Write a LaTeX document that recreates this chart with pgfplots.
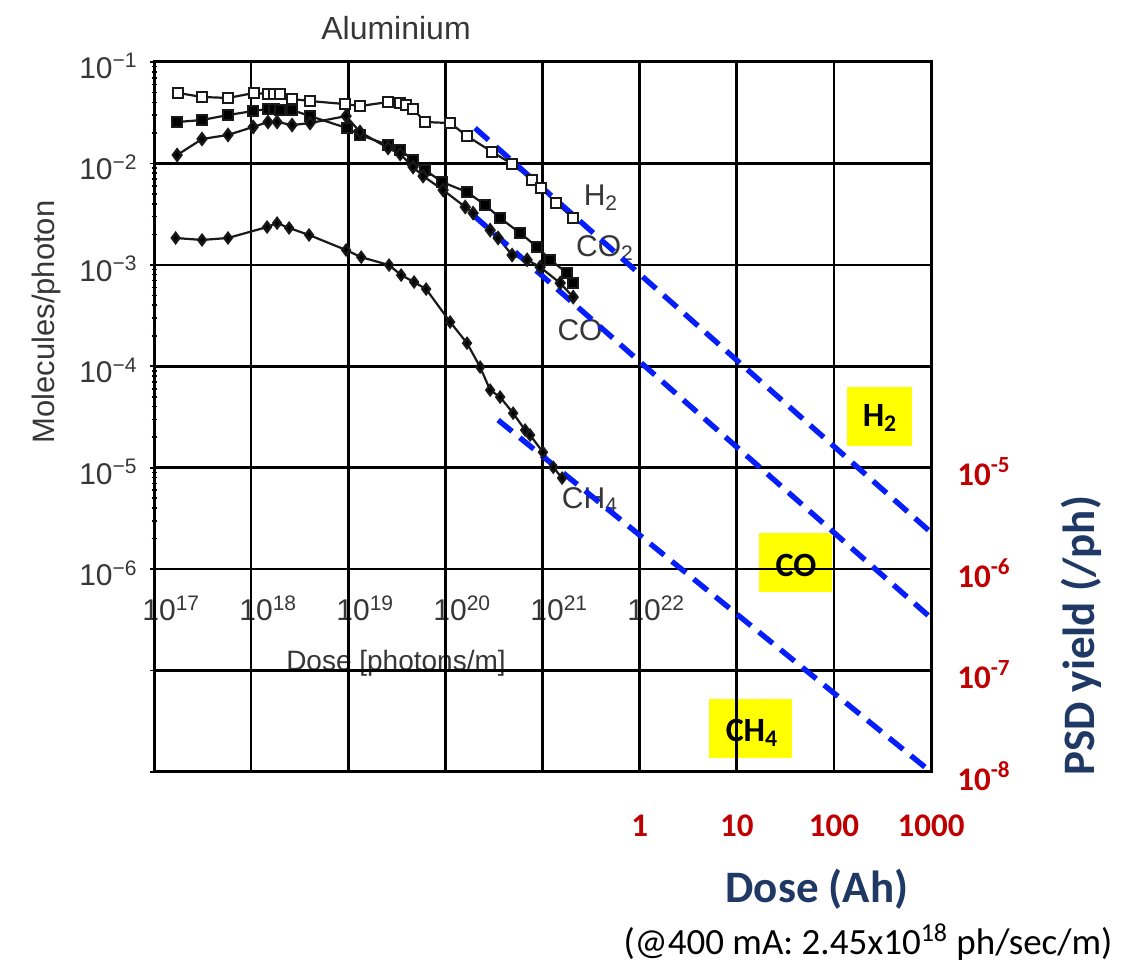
\documentclass[border=0pt]{standalone}
\usepackage{pgfplots}
\pgfplotsset{compat=1.18}
\usepackage{fontspec}
\setmainfont{Liberation Sans}
\newfontfamily\calibri{Carlito}
\definecolor{oldgray}{RGB}{55,55,55}
\definecolor{psdblue}{RGB}{5,30,250}
\definecolor{navy}{RGB}{31,56,100}
\definecolor{dred}{RGB}{192,0,0}
\definecolor{hl}{RGB}{255,255,0}
\newcommand{\gp}[1]{10\textsuperscript{−#1}}
\newcommand{\gx}[1]{10\textsuperscript{#1}}
\newcommand{\rp}[1]{10\textsuperscript{-#1}}
\begin{document}
\begin{tikzpicture}
\path[use as bounding box] (0,0) rectangle (565.5pt,481pt);
\begin{scope}[x=0.5pt,y=-0.5pt,shift={(0pt,481pt)}]
  % yellow highlight boxes (under the grid)
  \fill[hl] (847,387) rectangle (912,446);
  \fill[hl] (759,533) rectangle (832,592);
  \fill[hl] (709,699) rectangle (792,758);
  % old chart texts
  \node[text=oldgray,font=\fontsize{16}{19}\selectfont] at (396,28) {Aluminium};
  \node[rotate=90,text=oldgray,font=\fontsize{15.5}{18}\selectfont] at (46,322) {Molecules/photon};
  \node[text=oldgray,font=\fontsize{14}{17}\selectfont] at (396,663) {Dose [photons/m]};
  \foreach \k/\xx in {17/142,18/239,19/336,20/433,21/530,22/627}
    \node[anchor=base west,inner sep=0pt,text=oldgray,font=\fontsize{15}{18}\selectfont] at (\xx,621) {\gx{\k}};
  \node[text=oldgray,font=\fontsize{15}{18}\selectfont] at (601,198) {H\textsubscript{2}};
  \node[text=oldgray,font=\fontsize{15}{18}\selectfont] at (605,248) {CO\textsubscript{2}};
  \node[text=oldgray,font=\fontsize{15}{18}\selectfont] at (580,330) {CO};
  \node[text=oldgray,font=\fontsize{15}{18}\selectfont] at (590,500) {CH\textsubscript{4}};
\end{scope}

\begin{axis}[
  at={(77pt,95pt)}, anchor=south west,
  scale only axis, width=388.5pt, height=355pt,
  xmode=log, ymode=log,
  xmin=1e17, xmax=1e25, ymin=1e-8, ymax=1e-1,
  clip=false,
  xtick={1e17,1e18,1e19,1e20,1e21,1e22,1e23,1e24,1e25},
  xticklabels={,,,,,1,10,100,1000},
  ytick={1e-8,1e-7,1e-6,1e-5,1e-4,1e-3,1e-2,1e-1},
  yticklabels={,,\gp{6},\gp{5},\gp{4},\gp{3},\gp{2},\gp{1}},
  minor ytick={2e-6,3e-6,4e-6,5e-6,6e-6,7e-6,8e-6,9e-6,2e-5,3e-5,4e-5,5e-5,6e-5,7e-5,8e-5,9e-5,2e-4,3e-4,4e-4,5e-4,6e-4,7e-4,8e-4,9e-4,2e-3,3e-3,4e-3,5e-3,6e-3,7e-3,8e-3,9e-3,2e-2,3e-2,4e-2,5e-2,6e-2,7e-2,8e-2,9e-2},
  xminorticks=false,
  xtick style={draw=none},
  ytick pos=left,
  tick align=center,
  major tick length=4pt,
  minor tick length=2.5pt,
  tick style={black, line width=0.8pt},
  grid=major,
  major grid style={black, line width=1.3pt},
  axis line style={black, line width=1.5pt},
  xticklabel style={font=\calibri\bfseries\fontsize{16.5}{20}\selectfont, text=dred, anchor=base, inner sep=0pt, yshift=-30.5pt},
  yticklabel style={font=\fontsize{15}{18}\selectfont, text=oldgray, anchor=east, inner sep=0pt, xshift=-6pt, yshift=-2pt},
]
% H2 (open squares)
\addplot[black!90, line width=1.1pt, mark=square*, mark size=2.5pt, mark options={fill=white, line width=0.9pt}] coordinates {
(1.77e17,4.95e-2) (3.12e17,4.52e-2) (5.78e17,4.42e-2) (1.07e18,4.95e-2) (1.49e18,4.84e-2)
(1.72e18,4.84e-2) (1.98e18,4.84e-2) (2.64e18,4.32e-2) (4.04e18,4.12e-2) (9.27e18,3.85e-2)
(1.32e19,3.68e-2) (2.57e19,4.03e-2) (3.42e19,3.94e-2) (3.94e19,3.77e-2) (4.65e19,3.44e-2)
(6.18e19,2.56e-2) (1.12e20,2.50e-2) (1.67e20,1.86e-2) (3.03e20,1.30e-2) (4.86e20,9.86e-3)
(7.82e20,6.86e-3) (9.67e20,5.72e-3) (1.38e21,4.07e-3) (2.07e21,2.89e-3)};
% CO2 (filled squares)
\addplot[black!90, line width=1.1pt, mark=square*, mark size=2.5pt, mark options={fill=black}] coordinates {
(1.73e17,2.56e-2) (3.12e17,2.68e-2) (5.78e17,3.00e-2) (1.05e18,3.29e-2) (1.49e18,3.44e-2)
(1.72e18,3.44e-2) (1.98e18,3.36e-2) (2.64e18,3.36e-2) (4.04e18,2.93e-2) (9.72e18,2.23e-2)
(1.32e19,1.91e-2) (2.57e19,1.52e-2) (3.42e19,1.36e-2) (4.65e19,1.08e-2) (6.18e19,8.61e-3)
(9.25e19,6.56e-3) (1.67e20,5.22e-3) (2.57e20,3.89e-3) (3.66e20,2.89e-3) (5.88e20,2.06e-3)
(8.80e20,1.50e-3) (1.20e21,1.12e-3) (1.79e21,8.30e-4) (2.07e21,6.61e-4)};
% CO (filled diamonds)
\addplot[black!90, line width=1.1pt, mark=diamond*, mark size=2.9pt, mark options={fill=black}] coordinates {
(1.73e17,1.21e-2) (3.12e17,1.74e-2) (5.78e17,1.91e-2) (1.05e18,2.29e-2) (1.49e18,2.56e-2)
(1.85e18,2.56e-2) (2.64e18,2.39e-2) (4.04e18,2.50e-2) (9.49e18,2.93e-2) (1.32e19,2.04e-2)
(2.57e19,1.42e-2) (3.42e19,1.24e-2) (4.65e19,9.22e-3) (5.89e19,7.51e-3) (9.47e19,5.47e-3)
(1.60e20,3.72e-3) (1.93e20,3.24e-3) (2.89e20,2.20e-3) (3.49e20,1.84e-3) (4.86e20,1.25e-3)
(6.94e20,1.12e-3) (9.45e20,9.51e-4) (1.52e21,6.61e-4) (2.07e21,4.81e-4)};
% CH4 (filled dots)
\addplot[black!90, line width=1.1pt, mark=diamond*, mark size=2.6pt, mark options={fill=black}] coordinates {
(1.67e17,1.84e-3) (3.12e17,1.76e-3) (5.78e17,1.84e-3) (1.46e18,2.36e-3) (1.85e18,2.58e-3)
(2.46e18,2.31e-3) (3.95e18,1.97e-3) (9.49e18,1.40e-3) (1.36e19,1.19e-3) (2.63e19,9.95e-4)
(3.50e19,7.93e-4) (4.76e19,6.77e-4) (6.33e19,5.77e-4) (1.12e20,2.73e-4) (1.67e20,1.69e-4)
(2.28e20,9.82e-5) (2.89e20,5.82e-5) (3.66e20,4.97e-5) (4.98e20,3.45e-5) (6.62e20,2.35e-5)
(7.45e20,2.10e-5) (1.01e21,1.42e-5) (1.29e21,1.01e-5) (1.59e21,7.90e-6)};
% PSD fits (blue dashed)
\addplot[psdblue, line width=2.7pt, dash pattern=on 9pt off 5pt] coordinates {(2.02e20,2.23e-2) (1e25,2.3e-6)};
\addplot[psdblue, line width=2.7pt, dash pattern=on 9pt off 5pt] coordinates {(1.93e20,3.10e-3) (1e25,3.3e-7)};
\addplot[psdblue, line width=2.7pt, dash pattern=on 9pt off 5pt] coordinates {(3.49e20,2.95e-5) (9.5e24,1.04e-8)};
\end{axis}

\begin{axis}[
  at={(77pt,95pt)}, anchor=south west,
  scale only axis, width=388.5pt, height=355pt,
  xmode=log, ymode=log,
  xmin=1e17, xmax=1e25, ymin=1e-8, ymax=1e-1,
  axis x line=none, axis y line*=right,
  y axis line style={draw=none},
  ytick={1e-8,1e-7,1e-6,1e-5},
  yticklabels={\rp{8},\rp{7},\rp{6},\rp{5}},
  ytick style={draw=none},
  yminorticks=false,
  yticklabel style={font=\calibri\bfseries\fontsize{16.5}{20}\selectfont, text=dred, anchor=west, inner sep=0pt, xshift=13pt, yshift=-2pt},
]
\end{axis}

\begin{scope}[x=0.5pt,y=-0.5pt,shift={(0pt,481pt)}]
  \node[font=\calibri\bfseries\fontsize{17}{20}\selectfont] at (880,418) {H\textsubscript{2}};
  \node[font=\calibri\bfseries\fontsize{17}{20}\selectfont] at (796,565) {CO};
  \node[font=\calibri\bfseries\fontsize{17}{20}\selectfont] at (752,733) {CH\textsubscript{4}};
  \node[text=navy,font=\calibri\bfseries\fontsize{22.5}{26}\selectfont] at (817,889) {Dose (Ah)};
  \node[rotate=90,text=navy,font=\calibri\bfseries\fontsize{22.5}{26}\selectfont] at (1081,636) {PSD yield (/ph)};
  \node[font=\calibri\fontsize{18.5}{22}\selectfont] at (868,942) {(@400 mA: 2.45x10\textsuperscript{18} ph/sec/m)};
\end{scope}
\end{tikzpicture}
\end{document}
